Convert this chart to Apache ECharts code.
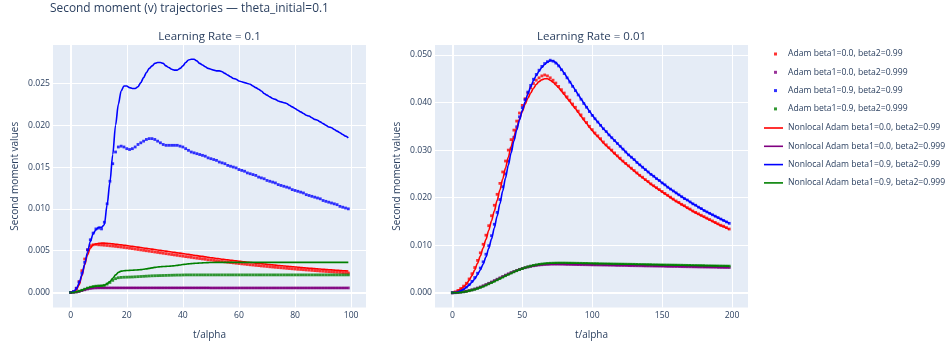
<!DOCTYPE html>
<html>
<head>
<meta charset="utf-8">
<script src="https://cdn.jsdelivr.net/npm/echarts@6/dist/echarts.min.js"></script>
<style>
  html, body { margin: 0; padding: 0; background: #ffffff; }
  #chart { width: 947px; height: 345px; }
</style>
</head>
<body>
<div id="chart"></div>
<script>
// ---- time axis (t/alpha) ----
const xLeft = [
  0,1,2,3,4,5,6,7,8,9,10,11,12,13,14,15,16,17,18,19,
  20,21,22,23,24,25,26,27,28,29,30,31,32,33,34,35,36,37,38,39,
  40,41,42,43,44,45,46,47,48,49,50,51,52,53,54,55,56,57,58,59,
  60,61,62,63,64,65,66,67,68,69,70,71,72,73,74,75,76,77,78,79,
  80,81,82,83,84,85,86,87,88,89,90,91,92,93,94,95,96,97,98,99
];
const xRight = [
  0,2,4,6,8,10,12,14,16,18,20,22,24,26,28,30,32,34,36,38,
  40,42,44,46,48,50,52,54,56,58,60,62,64,66,68,70,72,74,76,78,
  80,82,84,86,88,90,92,94,96,98,100,102,104,106,108,110,112,114,116,118,
  120,122,124,126,128,130,132,134,136,138,140,142,144,146,148,150,152,154,156,158,
  160,162,164,166,168,170,172,174,176,178,180,182,184,186,188,190,192,194,196,198
];

// ---- Learning rate 0.1 ----
const adamB0B99_lr01 = [
  0,0.0001,0.0005,0.0013,0.0026,0.0040,0.0051,0.0056,0.0057,0.00575,
  0.0057,0.00568,0.00565,0.00562,0.00558,0.00555,0.00551,0.00547,0.00543,0.00538,
  0.00534,0.00529,0.00524,0.00519,0.00514,0.00509,0.00504,0.00499,0.00494,0.00489,
  0.00484,0.00479,0.00474,0.00469,0.00464,0.00459,0.00454,0.00449,0.00444,0.00439,
  0.00434,0.00429,0.00425,0.00420,0.00415,0.00410,0.00406,0.00401,0.00397,0.00392,
  0.00388,0.00383,0.00379,0.00375,0.00370,0.00366,0.00362,0.00358,0.00354,0.00350,
  0.00346,0.00342,0.00339,0.00335,0.00331,0.00328,0.00324,0.00321,0.00317,0.00314,
  0.00311,0.00307,0.00304,0.00301,0.00298,0.00295,0.00292,0.00289,0.00286,0.00283,
  0.00280,0.00277,0.00275,0.00272,0.00269,0.00267,0.00264,0.00261,0.00259,0.00256,
  0.00254,0.00251,0.00249,0.00247,0.00244,0.00242,0.00240,0.00237,0.00235,0.00233
];
const adamB0B999_lr01 = [
  0,0.00002,0.00006,0.00013,0.00022,0.00032,0.00041,0.00048,0.00052,0.00054,
  0.00055,0.00055,0.00055,0.00055,0.00055,0.00055,0.00055,0.00055,0.00055,0.00055,
  0.00055,0.00055,0.00055,0.00055,0.00055,0.00055,0.00055,0.00055,0.00055,0.00055,
  0.00055,0.00055,0.00055,0.00055,0.00055,0.00055,0.00055,0.00055,0.00055,0.00055,
  0.00055,0.00055,0.00055,0.00055,0.00055,0.00055,0.00055,0.00055,0.00055,0.00055,
  0.00054,0.00054,0.00054,0.00054,0.00054,0.00054,0.00054,0.00054,0.00054,0.00054,
  0.00054,0.00054,0.00054,0.00054,0.00054,0.00054,0.00054,0.00054,0.00054,0.00054,
  0.00054,0.00054,0.00054,0.00054,0.00054,0.00054,0.00054,0.00054,0.00054,0.00054,
  0.00054,0.00054,0.00054,0.00054,0.00054,0.00054,0.00054,0.00054,0.00054,0.00054,
  0.00054,0.00054,0.00054,0.00054,0.00054,0.00054,0.00054,0.00054,0.00054,0.00054
];
const adamB9B99_lr01 = [
  0,0.0001,0.0005,0.00125,0.0023,0.0036,0.0051,0.0063,0.0071,0.0076,
  0.0077,0.0076,0.0084,0.0106,0.0133,0.0154,0.0168,0.0174,0.0175,0.0174,
  0.0172,0.0171,0.0172,0.0174,0.0177,0.0179,0.0181,0.0183,0.0184,0.0184,
  0.0183,0.0181,0.0179,0.0177,0.0176,0.0176,0.0176,0.0176,0.0176,0.0175,
  0.0174,0.0172,0.0170,0.0168,0.0167,0.0166,0.0165,0.0164,0.0163,0.0161,
  0.0160,0.0159,0.0158,0.0156,0.0155,0.0154,0.0152,0.0151,0.0150,0.0149,
  0.0147,0.0146,0.0145,0.0143,0.0142,0.0141,0.0140,0.0138,0.0137,0.0136,
  0.0134,0.0133,0.0132,0.0131,0.0129,0.0128,0.0127,0.0126,0.0125,0.0123,
  0.0122,0.0121,0.0120,0.0119,0.0117,0.0116,0.0115,0.0114,0.0113,0.0112,
  0.0110,0.0109,0.0108,0.0107,0.0106,0.0105,0.0103,0.0102,0.0101,0.0100
];
const adamB9B999_lr01 = [
  0,0.00002,0.00007,0.00015,0.00026,0.00039,0.00052,0.00062,0.0007,0.00075,
  0.00078,0.0008,0.00085,0.001,0.0012,0.00145,0.00165,0.00176,0.0018,0.00182,
  0.00183,0.00184,0.00185,0.00187,0.00189,0.00191,0.00193,0.00195,0.00197,0.00199,
  0.002,0.00201,0.00202,0.00203,0.00204,0.00205,0.00206,0.00207,0.00208,0.00208,
  0.00209,0.0021,0.0021,0.0021,0.0021,0.0021,0.0021,0.0021,0.0021,0.0021,
  0.0021,0.0021,0.0021,0.0021,0.0021,0.0021,0.0021,0.0021,0.0021,0.0021,
  0.0021,0.0021,0.0021,0.0021,0.0021,0.0021,0.0021,0.0021,0.0021,0.0021,
  0.0021,0.0021,0.0021,0.0021,0.0021,0.0021,0.0021,0.0021,0.0021,0.0021,
  0.0021,0.0021,0.0021,0.0021,0.0021,0.0021,0.0021,0.0021,0.0021,0.0021,
  0.0021,0.0021,0.0021,0.0021,0.0021,0.0021,0.0021,0.0021,0.0021,0.0021
];
const nlB0B99_lr01 = [
  0,0.00005,0.0003,0.0009,0.002,0.0033,0.0045,0.0053,0.0057,0.0058,
  0.00587,0.0059,0.0059,0.00588,0.00585,0.00581,0.00577,0.00573,0.00569,0.00565,
  0.00561,0.00556,0.00551,0.00547,0.00542,0.00537,0.00532,0.00527,0.00522,0.00518,
  0.00513,0.00508,0.00503,0.00498,0.00494,0.00489,0.00484,0.00479,0.00474,0.0047,
  0.00465,0.0046,0.00455,0.0045,0.00445,0.0044,0.00435,0.00431,0.00426,0.00421,
  0.00416,0.00412,0.00407,0.00403,0.00398,0.00394,0.0039,0.00386,0.00382,0.00378,
  0.00374,0.0037,0.00366,0.00362,0.00358,0.00355,0.00351,0.00347,0.00344,0.0034,
  0.00337,0.00333,0.0033,0.00327,0.00323,0.0032,0.00317,0.00314,0.00311,0.00308,
  0.00305,0.00302,0.00299,0.00296,0.00293,0.0029,0.00288,0.00285,0.00282,0.0028,
  0.00277,0.00275,0.00272,0.0027,0.00267,0.00265,0.00263,0.0026,0.00258,0.00256
];
const nlB0B999_lr01 = [
  0,0.00001,0.00005,0.00011,0.0002,0.0003,0.0004,0.00047,0.00051,0.00054,
  0.00055,0.00055,0.00055,0.00055,0.00055,0.00055,0.00055,0.00055,0.00055,0.00055,
  0.00055,0.00055,0.00055,0.00055,0.00055,0.00055,0.00055,0.00055,0.00055,0.00055,
  0.00055,0.00055,0.00055,0.00055,0.00055,0.00055,0.00055,0.00055,0.00055,0.00055,
  0.00055,0.00055,0.00055,0.00055,0.00055,0.00055,0.00055,0.00055,0.00055,0.00055,
  0.00054,0.00054,0.00054,0.00054,0.00054,0.00054,0.00054,0.00054,0.00054,0.00054,
  0.00054,0.00054,0.00054,0.00054,0.00054,0.00054,0.00054,0.00054,0.00054,0.00054,
  0.00054,0.00054,0.00054,0.00054,0.00054,0.00054,0.00054,0.00054,0.00054,0.00054,
  0.00054,0.00054,0.00054,0.00054,0.00054,0.00054,0.00054,0.00054,0.00054,0.00054,
  0.00054,0.00054,0.00054,0.00054,0.00054,0.00054,0.00054,0.00054,0.00054,0.00054
];
const nlB9B99_lr01 = [
  0,0.0001,0.0004,0.0011,0.0021,0.0034,0.0048,0.0061,0.0070,0.0075,
  0.0078,0.0078,0.0081,0.0105,0.0132,0.0165,0.0200,0.0225,0.0241,0.0247,
  0.0247,0.0245,0.0244,0.0244,0.0246,0.0251,0.0257,0.0263,0.0268,0.0271,
  0.0274,0.0275,0.0275,0.0274,0.0271,0.0269,0.0267,0.0266,0.0266,0.0268,
  0.0271,0.0275,0.0278,0.0279,0.0279,0.0277,0.0274,0.0272,0.0270,0.0268,
  0.0267,0.0266,0.0265,0.0265,0.0264,0.0262,0.0260,0.0258,0.0256,0.0255,
  0.0253,0.0252,0.0251,0.0250,0.0249,0.0247,0.0245,0.0243,0.0241,0.0238,
  0.0236,0.0234,0.0232,0.0231,0.0229,0.0228,0.0227,0.0226,0.0224,0.0222,
  0.0220,0.0218,0.0216,0.0214,0.0212,0.0211,0.0209,0.0207,0.0206,0.0204,
  0.0202,0.0200,0.0198,0.0197,0.0195,0.0193,0.0191,0.0189,0.0187,0.0185
];
const nlB9B999_lr01 = [
  0,0.00002,0.00007,0.00015,0.00026,0.00039,0.00052,0.00062,0.0007,0.00075,
  0.00078,0.0008,0.00085,0.00105,0.0013,0.0017,0.0021,0.0024,0.00255,0.0026,
  0.00262,0.00264,0.00266,0.00268,0.0027,0.00273,0.00277,0.00282,0.00288,0.00294,
  0.003,0.00304,0.00308,0.0031,0.00312,0.00314,0.00316,0.0032,0.00324,0.00329,
  0.00334,0.00338,0.00342,0.00345,0.00348,0.0035,0.00352,0.00354,0.00356,0.00357,
  0.00358,0.00359,0.0036,0.0036,0.0036,0.0036,0.0036,0.0036,0.0036,0.0036,
  0.0036,0.0036,0.0036,0.0036,0.0036,0.0036,0.0036,0.0036,0.0036,0.0036,
  0.0036,0.0036,0.0036,0.0036,0.0036,0.0036,0.0036,0.0036,0.0036,0.0036,
  0.0036,0.0036,0.0036,0.0036,0.0036,0.0036,0.0036,0.0036,0.0036,0.0036,
  0.0036,0.0036,0.0036,0.0036,0.0036,0.0036,0.0036,0.0036,0.0036,0.0036
];

// ---- Learning rate 0.01 ----
const adamB0B99_lr001 = [
  0,0.0002,0.0005,0.0009,0.0014,0.002,0.0029,0.004,0.0053,0.0068,
  0.0084,0.0102,0.0121,0.0141,0.0162,0.0184,0.0207,0.023,0.0254,0.0277,
  0.03,0.0322,0.0342,0.0361,0.0378,0.0394,0.0408,0.042,0.0431,0.044,
  0.0447,0.0452,0.0456,0.0458,0.0456,0.0452,0.0447,0.0441,0.0434,0.0427,
  0.042,0.0412,0.0405,0.0397,0.039,0.0382,0.0374,0.0366,0.0358,0.035,
  0.0343,0.0336,0.033,0.0324,0.0317,0.0311,0.0305,0.03,0.0294,0.0288,
  0.0283,0.0277,0.0272,0.0267,0.0262,0.0257,0.0252,0.0247,0.0243,0.0238,
  0.0234,0.0229,0.0225,0.0221,0.0217,0.0213,0.0209,0.0205,0.0201,0.0197,
  0.0193,0.019,0.0186,0.0183,0.0179,0.0176,0.0172,0.0169,0.0166,0.0163,
  0.016,0.0157,0.0154,0.0151,0.0148,0.0145,0.0142,0.014,0.0137,0.0134
];
const adamB0B999_lr001 = [
  0,0.00002,0.00006,0.00013,0.00022,0.00033,0.00046,0.00062,0.0008,0.001,
  0.00122,0.00146,0.00172,0.00199,0.00227,0.00256,0.00285,0.00314,0.00343,0.00371,
  0.00398,0.00424,0.00448,0.00471,0.00492,0.00511,0.00528,0.00543,0.00556,0.00567,
  0.00576,0.00583,0.00589,0.00594,0.00597,0.00599,0.006,0.006,0.006,0.00599,
  0.00598,0.00597,0.00596,0.00594,0.00593,0.00592,0.00591,0.0059,0.00589,0.00588,
  0.00586,0.00585,0.00584,0.00583,0.00582,0.00581,0.00579,0.00578,0.00577,0.00576,
  0.00575,0.00574,0.00573,0.00571,0.0057,0.00569,0.00568,0.00567,0.00566,0.00564,
  0.00563,0.00562,0.00561,0.0056,0.00559,0.00558,0.00556,0.00555,0.00554,0.00553,
  0.00552,0.00551,0.00549,0.00548,0.00547,0.00546,0.00545,0.00544,0.00542,0.00541,
  0.0054,0.00539,0.00538,0.00537,0.00536,0.00534,0.00533,0.00532,0.00531,0.0053
];
const adamB9B99_lr001 = [
  0,0.00007,0.00025,0.0005,0.0008,0.0012,0.0017,0.0024,0.0032,0.0041,
  0.0052,0.0065,0.0081,0.0099,0.012,0.0144,0.0169,0.0196,0.0223,0.025,
  0.0277,0.0303,0.0327,0.0349,0.037,0.0389,0.0406,0.0422,0.0436,0.0449,
  0.0459,0.0468,0.0476,0.0482,0.0486,0.0489,0.0487,0.0483,0.0477,0.0469,
  0.0461,0.0452,0.0443,0.0434,0.0425,0.0416,0.0407,0.0398,0.039,0.0381,
  0.0373,0.0366,0.0359,0.0352,0.0345,0.0339,0.0332,0.0326,0.032,0.0314,
  0.0308,0.0302,0.0296,0.029,0.0285,0.028,0.0274,0.0269,0.0264,0.0259,
  0.0254,0.0249,0.0245,0.024,0.0236,0.0231,0.0227,0.0222,0.0218,0.0214,
  0.021,0.0206,0.0202,0.0198,0.0195,0.0191,0.0187,0.0184,0.018,0.0177,
  0.0173,0.017,0.0167,0.0164,0.0161,0.0158,0.0155,0.0152,0.0149,0.0146
];
const adamB9B999_lr001 = [
  0,0.00002,0.00006,0.00012,0.0002,0.0003,0.00042,0.00057,0.00074,0.00093,
  0.00114,0.00137,0.00162,0.00188,0.00215,0.00243,0.00272,0.00301,0.0033,0.00359,
  0.00387,0.00414,0.0044,0.00464,0.00487,0.00508,0.00527,0.00545,0.00561,0.00575,
  0.00587,0.00597,0.00605,0.00612,0.00617,0.0062,0.00622,0.00624,0.00625,0.00625,
  0.00625,0.00624,0.00623,0.00622,0.00621,0.0062,0.00619,0.00618,0.00617,0.00615,
  0.00614,0.00613,0.00612,0.00611,0.0061,0.00609,0.00608,0.00606,0.00605,0.00604,
  0.00603,0.00602,0.00601,0.006,0.00599,0.00598,0.00596,0.00595,0.00594,0.00593,
  0.00592,0.00591,0.0059,0.00589,0.00587,0.00586,0.00585,0.00584,0.00583,0.00582,
  0.00581,0.0058,0.00579,0.00577,0.00576,0.00575,0.00574,0.00573,0.00572,0.00571,
  0.0057,0.00568,0.00567,0.00566,0.00565,0.00564,0.00563,0.00562,0.00561,0.0056
];
const nlB0B99_lr001 = [
  0,0.0001,0.0004,0.0008,0.0012,0.0018,0.0026,0.0036,0.0048,0.0062,
  0.0077,0.0094,0.0112,0.0131,0.0151,0.0172,0.0194,0.0216,0.0239,0.0262,
  0.0285,0.0307,0.0328,0.0347,0.0365,0.0381,0.0396,0.0409,0.042,0.043,
  0.0438,0.0444,0.0448,0.045,0.045,0.0447,0.0443,0.0437,0.0431,0.0424,
  0.0417,0.0409,0.0402,0.0394,0.0387,0.0379,0.0371,0.0363,0.0356,0.0348,
  0.0341,0.0334,0.0328,0.0322,0.0315,0.0309,0.0304,0.0298,0.0292,0.0287,
  0.0281,0.0276,0.0271,0.0266,0.0261,0.0256,0.0251,0.0246,0.0242,0.0237,
  0.0233,0.0228,0.0224,0.022,0.0216,0.0212,0.0208,0.0204,0.02,0.0196,
  0.0192,0.0189,0.0185,0.0182,0.0178,0.0175,0.0171,0.0168,0.0165,0.0162,
  0.0159,0.0156,0.0153,0.015,0.0147,0.0144,0.0141,0.0139,0.0136,0.0133
];
const nlB0B999_lr001 = [
  0,0.00001,0.00005,0.00011,0.00019,0.0003,0.00042,0.00057,0.00075,0.00095,
  0.00116,0.0014,0.00166,0.00193,0.00221,0.0025,0.00279,0.00308,0.00337,0.00365,
  0.00392,0.00418,0.00443,0.00466,0.00488,0.00507,0.00525,0.0054,0.00554,0.00565,
  0.00575,0.00582,0.00588,0.00593,0.00596,0.00598,0.00599,0.006,0.006,0.00599,
  0.00598,0.00597,0.00596,0.00594,0.00593,0.00592,0.00591,0.0059,0.00589,0.00588,
  0.00586,0.00585,0.00584,0.00583,0.00582,0.00581,0.00579,0.00578,0.00577,0.00576,
  0.00575,0.00574,0.00573,0.00571,0.0057,0.00569,0.00568,0.00567,0.00566,0.00564,
  0.00563,0.00562,0.00561,0.0056,0.00559,0.00558,0.00556,0.00555,0.00554,0.00553,
  0.00552,0.00551,0.00549,0.00548,0.00547,0.00546,0.00545,0.00544,0.00542,0.00541,
  0.0054,0.00539,0.00538,0.00537,0.00536,0.00534,0.00533,0.00532,0.00531,0.0053
];
const nlB9B99_lr001 = [
  0,0.00005,0.0002,0.0004,0.0007,0.0011,0.0016,0.0022,0.0029,0.0038,
  0.0048,0.006,0.0075,0.0093,0.0113,0.0136,0.0161,0.0187,0.0214,0.0241,
  0.0268,0.0294,0.0319,0.0342,0.0363,0.0383,0.0401,0.0418,0.0433,0.0446,
  0.0457,0.0466,0.0474,0.048,0.0485,0.0488,0.0488,0.0484,0.0478,0.047,
  0.0462,0.0453,0.0444,0.0435,0.0426,0.0417,0.0408,0.0399,0.039,0.0382,
  0.0374,0.0366,0.0359,0.0352,0.0345,0.0339,0.0332,0.0326,0.032,0.0314,
  0.0308,0.0302,0.0296,0.029,0.0285,0.028,0.0274,0.0269,0.0264,0.0259,
  0.0254,0.0249,0.0245,0.024,0.0236,0.0231,0.0227,0.0222,0.0218,0.0214,
  0.021,0.0206,0.0202,0.0198,0.0195,0.0191,0.0187,0.0184,0.018,0.0177,
  0.0173,0.017,0.0167,0.0164,0.0161,0.0158,0.0155,0.0152,0.0149,0.0146
];
const nlB9B999_lr001 = [
  0,0.00001,0.00005,0.0001,0.00017,0.00027,0.00039,0.00053,0.0007,0.00089,
  0.0011,0.00133,0.00158,0.00184,0.00211,0.00239,0.00268,0.00297,0.00326,0.00355,
  0.00383,0.0041,0.00436,0.00461,0.00484,0.00505,0.00525,0.00543,0.00559,0.00573,
  0.00585,0.00596,0.00604,0.00611,0.00616,0.0062,0.00622,0.00624,0.00625,0.00625,
  0.00625,0.00624,0.00623,0.00622,0.00621,0.0062,0.00619,0.00618,0.00617,0.00615,
  0.00614,0.00613,0.00612,0.00611,0.0061,0.00609,0.00608,0.00606,0.00605,0.00604,
  0.00603,0.00602,0.00601,0.006,0.00599,0.00598,0.00596,0.00595,0.00594,0.00593,
  0.00592,0.00591,0.0059,0.00589,0.00587,0.00586,0.00585,0.00584,0.00583,0.00582,
  0.00581,0.0058,0.00579,0.00577,0.00576,0.00575,0.00574,0.00573,0.00572,0.00571,
  0.0057,0.00568,0.00567,0.00566,0.00565,0.00564,0.00563,0.00562,0.00561,0.0056
];

// ---- labels ----
const chartTitle = 'Second moment (v) trajectories \u2014 theta_initial=0.1';
const panelTitles = ['Learning Rate = 0.1', 'Learning Rate = 0.01'];
const xTitle = 't/alpha';
const yTitle = 'Second moment values';
const adamNames = [
  'Adam beta1=0.0, beta2=0.99',
  'Adam beta1=0.0, beta2=0.999',
  'Adam beta1=0.9, beta2=0.99',
  'Adam beta1=0.9, beta2=0.999'
];
const nonlocalNames = [
  'Nonlocal Adam beta1=0.0, beta2=0.99',
  'Nonlocal Adam beta1=0.0, beta2=0.999',
  'Nonlocal Adam beta1=0.9, beta2=0.99',
  'Nonlocal Adam beta1=0.9, beta2=0.999'
];
const colors = ['#ff0000', '#800080', '#0000ff', '#008000'];

const FONT = '"Open Sans", verdana, arial, sans-serif';
const INK = '#2a3f5f';

function pairs(xs, ys) { return xs.map((x, i) => [x, ys[i]]); }

function markers(name, color, xs, ys, idx) {
  return {
    name, type: 'scatter', xAxisIndex: idx, yAxisIndex: idx,
    data: pairs(xs, ys), symbol: 'rect', symbolSize: 2.8,
    itemStyle: { color }, z: 2, silent: true
  };
}
function curve(name, color, xs, ys, idx) {
  return {
    name, type: 'line', xAxisIndex: idx, yAxisIndex: idx,
    data: pairs(xs, ys), showSymbol: false, symbol: 'none',
    smooth: 0.3, smoothMonotone: 'x',
    lineStyle: { color, width: 1.6 }, itemStyle: { color }, z: 3, silent: true
  };
}
// white zero lines, drawn under the traces
function zeroLines(idx) {
  return {
    type: 'line', xAxisIndex: idx, yAxisIndex: idx, data: [], silent: true,
    markLine: {
      silent: true, symbol: 'none', z: 1, animation: false,
      label: { show: false },
      lineStyle: { color: '#ffffff', width: 2, type: 'solid' },
      data: [{ yAxis: 0 }, { xAxis: 0 }]
    }
  };
}

const lr01Adam = [adamB0B99_lr01, adamB0B999_lr01, adamB9B99_lr01, adamB9B999_lr01];
const lr01Nl = [nlB0B99_lr01, nlB0B999_lr01, nlB9B99_lr01, nlB9B999_lr01];
const lr001Adam = [adamB0B99_lr001, adamB0B999_lr001, adamB9B99_lr001, adamB9B999_lr001];
const lr001Nl = [nlB0B99_lr001, nlB0B999_lr001, nlB9B99_lr001, nlB9B999_lr001];

const series = [zeroLines(0), zeroLines(1)];
for (let k = 0; k < 4; k++) series.push(markers(adamNames[k], colors[k], xLeft, lr01Adam[k], 0));
for (let k = 0; k < 4; k++) series.push(curve(nonlocalNames[k], colors[k], xLeft, lr01Nl[k], 0));
for (let k = 0; k < 4; k++) series.push(markers(adamNames[k], colors[k], xRight, lr001Adam[k], 1));
for (let k = 0; k < 4; k++) series.push(curve(nonlocalNames[k], colors[k], xRight, lr001Nl[k], 1));

const TICK_SIZE = 8.6;
const NAME_SIZE = 10;

function xAxisCfg(idx, min, max) {
  return {
    gridIndex: idx, type: 'value', min, max, splitNumber: 5,
    axisLine: { show: false }, axisTick: { show: false },
    splitLine: { show: true, showMinLine: false, showMaxLine: false, lineStyle: { color: '#ffffff', width: 1 } },
    axisLabel: { showMinLabel: false, showMaxLabel: false, color: INK, fontSize: TICK_SIZE, fontFamily: FONT, margin: 4 },
    name: xTitle, nameLocation: 'middle', nameGap: 22.5,
    nameTextStyle: { color: INK, fontSize: NAME_SIZE, fontFamily: FONT }
  };
}
function yAxisCfg(idx, min, max) {
  return {
    gridIndex: idx, type: 'value', min, max, splitNumber: 5,
    axisLine: { show: false }, axisTick: { show: false },
    splitLine: { show: true, showMinLine: false, showMaxLine: false, lineStyle: { color: '#ffffff', width: 1 } },
    axisLabel: {
      showMinLabel: false, showMaxLabel: false, color: INK, fontSize: TICK_SIZE, fontFamily: FONT, margin: 3,
      formatter: v => v.toFixed(3)
    },
    name: yTitle, nameLocation: 'middle', nameGap: 33, nameRotate: 90,
    nameTextStyle: { color: INK, fontSize: NAME_SIZE, fontFamily: FONT }
  };
}

const chart = echarts.init(document.getElementById('chart'), null, { renderer: 'canvas' });
chart.setOption({
  animation: false,
  backgroundColor: '#ffffff',
  textStyle: { fontFamily: FONT },
  title: [
    { text: chartTitle, left: 50, top: 3, padding: 0,
      textStyle: { color: INK, fontSize: 11.9, fontWeight: 'normal', fontFamily: FONT } },
    { text: panelTitles[0], left: 209.5, top: 31, padding: 0, textAlign: 'center',
      textStyle: { color: INK, fontSize: 11.5, fontWeight: 'normal', fontFamily: FONT } },
    { text: panelTitles[1], left: 591.5, top: 31, padding: 0, textAlign: 'center',
      textStyle: { color: INK, fontSize: 11.5, fontWeight: 'normal', fontFamily: FONT } }
  ],
  legend: [
    { data: adamNames, orient: 'vertical', left: 774, top: 47, padding: 0,
      icon: 'rect', itemWidth: 3, itemHeight: 3, itemGap: 4.3, selectedMode: false,
      textStyle: { color: INK, fontSize: 8.6, fontFamily: FONT, lineHeight: 14, padding: [0, 0, 0, 6] } },
    { data: nonlocalNames, orient: 'vertical', left: 764, top: 121, padding: 0,
      icon: 'rect', itemWidth: 19, itemHeight: 1.6, itemGap: 4.3, selectedMode: false,
      textStyle: { color: INK, fontSize: 8.6, fontFamily: FONT, lineHeight: 14 } }
  ],
  grid: [
    { left: 53, top: 45, width: 313, height: 267, show: true, backgroundColor: '#E5ECF6', borderWidth: 0 },
    { left: 435, top: 45, width: 313, height: 267, show: true, backgroundColor: '#E5ECF6', borderWidth: 0 }
  ],
  xAxis: [xAxisCfg(0, -6.3, 105.3), xAxisCfg(1, -12.4, 211.4)],
  yAxis: [yAxisCfg(0, -0.0018, 0.0296), yAxisCfg(1, -0.0031, 0.0521)],
  series
});
</script>
</body>
</html>
